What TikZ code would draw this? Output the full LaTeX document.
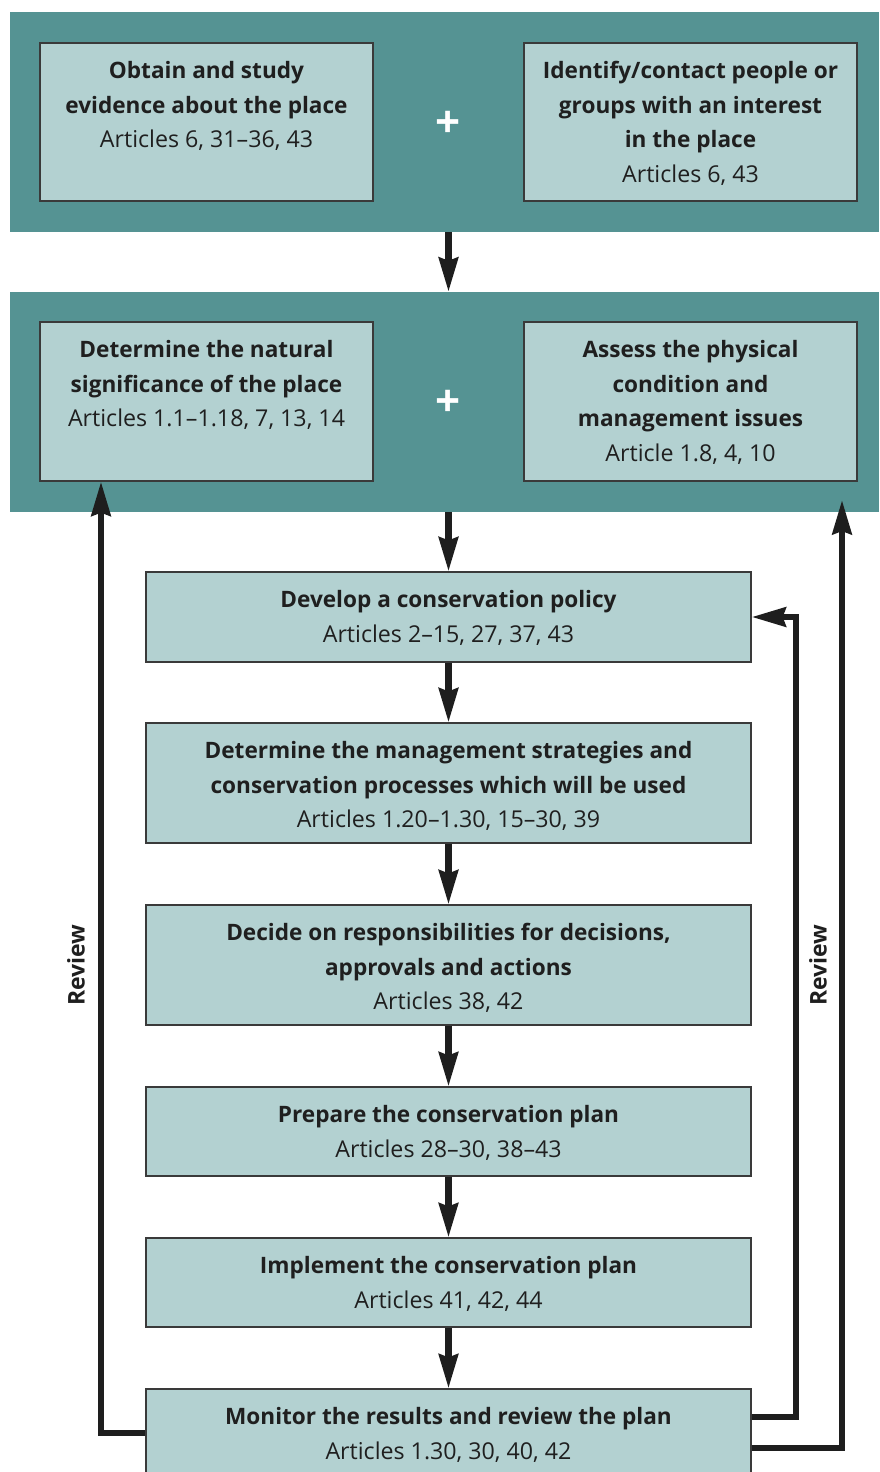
\documentclass[tikz,border=0pt]{standalone}
\usepackage{fontspec}
\setmainfont{Open Sans}
\usetikzlibrary{arrows.meta}
\definecolor{band}{HTML}{559393}
\definecolor{boxfill}{HTML}{B3D1D1}
\definecolor{boxline}{HTML}{3A3A3A}
\definecolor{arr}{HTML}{1E1E1E}
\newcommand\bt[1]{{\fontsize{22.6}{34.5}\selectfont\bfseries #1}}
\tikzset{
  x=1pt,y=-1pt,
  bandbox/.style={fill=band,draw=none},
  stepbox/.style={fill=boxfill,draw=boxline,line width=1.2pt},
  txt/.style={anchor=north,align=center,inner sep=0pt,font=\fontsize{23.2}{34.5}\selectfont,text=black!88},
  flow/.style={draw=arr,line width=6.5pt,-{Stealth[length=34pt,width=19pt,inset=3pt]}},
  fb/.style={draw=arr,line width=6.5pt},
  plus/.style={text=white,font=\fontsize{44}{44}\selectfont\bfseries},
  rev/.style={rotate=90,font=\fontsize{23}{23}\selectfont\bfseries,text=black!88}
}
\begin{document}
\begin{tikzpicture}
\useasboundingbox (0,0) rectangle (879,1472);
\clip (0,0) rectangle (879,1472);
\fill[white] (0,0) rectangle (879,1472);
% bands
\node[bandbox,minimum width=869pt,minimum height=220pt,inner sep=0pt] (band1) at (444.5,122) {};
\node[bandbox,minimum width=869pt,minimum height=220pt,inner sep=0pt] (band2) at (444.5,402) {};
% boxes
\node[stepbox,minimum width=333pt,minimum height=158pt,inner sep=0pt] (b1) at (206.5,122) {};
\node[stepbox,minimum width=333pt,minimum height=158pt,inner sep=0pt] (b2) at (690.5,122) {};
\node[stepbox,minimum width=333pt,minimum height=159pt,inner sep=0pt] (b3) at (206.5,401.5) {};
\node[stepbox,minimum width=333pt,minimum height=159pt,inner sep=0pt] (b4) at (690.5,401.5) {};
\node[stepbox,minimum width=605pt,minimum height=90pt,inner sep=0pt] (b5) at (448.5,617) {};
\node[stepbox,minimum width=605pt,minimum height=120pt,inner sep=0pt] (b6) at (448.5,783) {};
\node[stepbox,minimum width=605pt,minimum height=120pt,inner sep=0pt] (b7) at (448.5,965) {};
\node[stepbox,minimum width=605pt,minimum height=89pt,inner sep=0pt] (b8) at (448.5,1131.5) {};
\node[stepbox,minimum width=605pt,minimum height=89pt,inner sep=0pt] (b9) at (448.5,1282.5) {};
\node[stepbox,minimum width=605pt,minimum height=110pt,inner sep=0pt] (b10) at (448.5,1444) {};
% texts
\node[txt] (t1) at ([yshift=-19pt]b1.north) {\bt{Obtain and study}\\\bt{evidence about the place}\\Articles 6, 31–36, 43};
\node[txt] (t2) at ([yshift=-19pt]b2.north) {\bt{Identify/contact people or}\\\bt{groups with an interest}\\\bt{in the place}\\Articles 6, 43};
\node[txt] (t3) at ([yshift=-19pt]b3.north) {\bt{Determine the natural}\\\bt{significance of the place}\\Articles 1.1–1.18, 7, 13, 14};
\node[txt] (t4) at ([yshift=-19pt]b4.north) {\bt{Assess the physical}\\\bt{condition and}\\\bt{management issues}\\Article 1.8, 4, 10};
\node[txt] (t5) at ([yshift=-19pt]b5.north) {\bt{Develop a conservation policy}\\Articles 2–15, 27, 37, 43};
\node[txt] (t6) at ([yshift=-19pt]b6.north) {\bt{Determine the management strategies and}\\\bt{conservation processes which will be used}\\Articles 1.20–1.30, 15–30, 39};
\node[txt] (t7) at ([yshift=-19pt]b7.north) {\bt{Decide on responsibilities for decisions,}\\\bt{approvals and actions}\\Articles 38, 42};
\node[txt] (t8) at ([yshift=-19pt]b8.north) {\bt{Prepare the conservation plan}\\Articles 28–30, 38–43};
\node[txt] (t9) at ([yshift=-19pt]b9.north) {\bt{Implement the conservation plan}\\Articles 41, 42, 44};
\node[txt] (t10) at ([yshift=-19pt]b10.north) {\bt{Monitor the results and review the plan}\\Articles 1.30, 30, 40, 42};
% plus signs
\node[plus] (p1) at (448,124) {+};
\node[plus] (p2) at (448,403) {+};
% flow arrows
\draw[flow] (band1.south -| b5.north) -- (band2.north -| b5.north);
\draw[flow] (band2.south -| b5.north) -- (b5.north);
\draw[flow] (b5) -- (b6);
\draw[flow] (b6) -- (b7);
\draw[flow] (b7) -- (b8);
\draw[flow] (b8) -- (b9);
\draw[flow] (b9) -- (b10);
% feedback loops
\coordinate (lc) at (101,1433);
\coordinate (ric) at (796,1417);
\coordinate (roc) at (842,1448);
\coordinate (rot) at (842,500);
\draw[flow] (b10.west |- lc) -| (b3.south -| lc);
\draw[flow] (b10.east |- ric) -| (ric |- b5.east) -- (b5.east);
\draw[flow] (b10.east |- roc) -| (rot);
% review labels
\node[rev] (r1) at (76,965) {Review};
\node[rev] (r2) at (818,965) {Review};
\end{tikzpicture}
\end{document}
